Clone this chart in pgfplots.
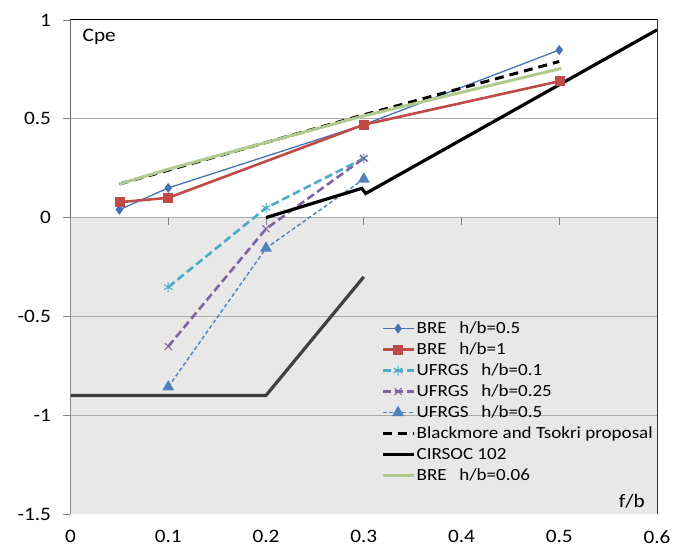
\documentclass[border=0pt]{standalone}
\usepackage{fontspec}
\setmainfont{Carlito}[FakeStretch=1.12]
\usepackage{pgfplots}
\pgfplotsset{compat=1.18}
\definecolor{cbreA}{RGB}{69,114,180}
\definecolor{cbreB}{RGB}{190,75,72}
\definecolor{cufA}{RGB}{75,172,198}
\definecolor{cufB}{RGB}{128,100,162}
\definecolor{cufC}{RGB}{79,129,189}
\definecolor{cgreen}{RGB}{178,202,142}
\definecolor{cshade}{RGB}{232,232,232}
\definecolor{cgrid}{RGB}{170,170,170}
\begin{document}
\begin{tikzpicture}
\path[use as bounding box] (-70.5pt,-39pt) rectangle (617.5pt,514pt);
\begin{axis}[
  scale only axis, width=586.5pt, height=494pt,
  xmin=0, xmax=0.6, ymin=-1.5, ymax=1,
  xtick={0,0.1,0.2,0.3,0.4,0.5,0.6},
  xticklabels={0,0.1,0.2,0.3,0.4,0.5,0.6},
  ytick={-1.5,-1,-0.5,0,0.5,1},
  yticklabels={-1.5,-1,-0.5,0,0.5,1},
  tick pos=left,
  x tick style={draw=none},
  y tick style={draw=gray, line width=0.8pt},
  major tick length=7pt, tick align=outside,
  axis line style={draw=black!80, line width=1pt},
  tick label style={font=\fontsize{19}{22}\selectfont},
  xticklabel style={yshift=-6pt},
  yticklabel style={xshift=-9pt},
  legend cell align=left,
  legend image code/.code={\draw[mark repeat=2,mark phase=2] plot coordinates {(0pt,0pt) (15.5pt,0pt) (31pt,0pt)};},
  legend style={at={(0.529,0.397)}, anchor=north west, draw=none, fill=none,
    inner sep=0pt, font=\fontsize{17}{20}\selectfont,
    nodes={inner xsep=1.5pt, inner ysep=2pt, text height=13pt, text depth=4pt}},
]
\fill[cshade] (axis cs:0,0) rectangle (axis cs:0.6,-1.5);
\pgfplotsinvokeforeach{-1,-0.5,0,0.5}{
  \draw[cgrid, line width=0.8pt] (axis cs:0,#1) -- (axis cs:0.6,#1);
}
\pgfplotsinvokeforeach{0.1,0.2,0.3,0.4,0.5}{
  \draw[gray, line width=0.8pt] (axis cs:#1,0) -- ++(0pt,-7pt);
}
\addplot[cbreA, line width=1.3pt, mark=diamond*, mark size=4pt, mark options={solid, fill=cbreA}]
  coordinates {(0.05,0.04) (0.1,0.15) (0.3,0.47) (0.5,0.848)};
\addlegendentry{BRE\hspace{0.75em}h/b=0.5}
\addplot[cbreB, line width=2.6pt, mark=square*, mark size=4.5pt, mark options={solid, line width=0.5pt, fill=cbreB}]
  coordinates {(0.05,0.078) (0.1,0.10) (0.3,0.47) (0.5,0.69)};
\addlegendentry{BRE\hspace{0.75em}h/b=1}
\addplot[cufA, line width=2.6pt, dash pattern=on 8pt off 4pt, mark=asterisk, mark size=5pt, mark options={solid, line width=1pt}]
  coordinates {(0.1,-0.352) (0.2,0.049) (0.3,0.30)};
\addlegendentry{UFRGS\hspace{0.75em}h/b=0.1}
\addplot[cufB, line width=2.6pt, dash pattern=on 8pt off 4pt, mark=x, mark size=5pt, mark options={solid, line width=1pt}]
  coordinates {(0.1,-0.652) (0.2,-0.057) (0.3,0.30)};
\addlegendentry{UFRGS\hspace{0.75em}h/b=0.25}
\addplot[cufC, line width=1.4pt, dash pattern=on 4pt off 2.5pt, mark=triangle*, mark size=5.5pt, mark options={solid, fill=cufC}]
  coordinates {(0.1,-0.857) (0.2,-0.155) (0.3,0.195)};
\addlegendentry{UFRGS\hspace{0.75em}h/b=0.5}
\addplot[black, line width=3pt, dash pattern=on 9pt off 6pt]
  coordinates {(0.05,0.17) (0.1,0.24) (0.2,0.38) (0.3,0.52) (0.5,0.79)};
\addlegendentry{Blackmore and Tsokri proposal}
\addplot[black, line width=3.2pt]
  coordinates {(0.2,0.0) (0.298,0.148) (0.302,0.122) (0.6,0.95)};
\addlegendentry{CIRSOC 102}
\addplot[cgreen, line width=3pt]
  coordinates {(0.05,0.17) (0.1,0.245) (0.2,0.38) (0.3,0.515) (0.502,0.755)};
\addlegendentry{BRE\hspace{0.75em}h/b=0.06}
\addplot[black!75, line width=3.2pt, forget plot]
  coordinates {(0,-0.9) (0.2,-0.9) (0.3,-0.3)};
\draw[gray, line width=1pt] (rel axis cs:0,0) -- (rel axis cs:0,1);
\draw[black, line width=1pt] (rel axis cs:0,1) -- (rel axis cs:1,1);
\node[anchor=north west, font=\fontsize{19}{22}\selectfont, inner sep=0pt] at ([shift={(12pt,-9pt)}]rel axis cs:0,1) {Cpe};
\node[anchor=south east, font=\fontsize{19}{22}\selectfont, inner sep=0pt] at ([shift={(-12pt,5pt)}]rel axis cs:1,0) {f/b};
\end{axis}
\end{tikzpicture}
\end{document}
